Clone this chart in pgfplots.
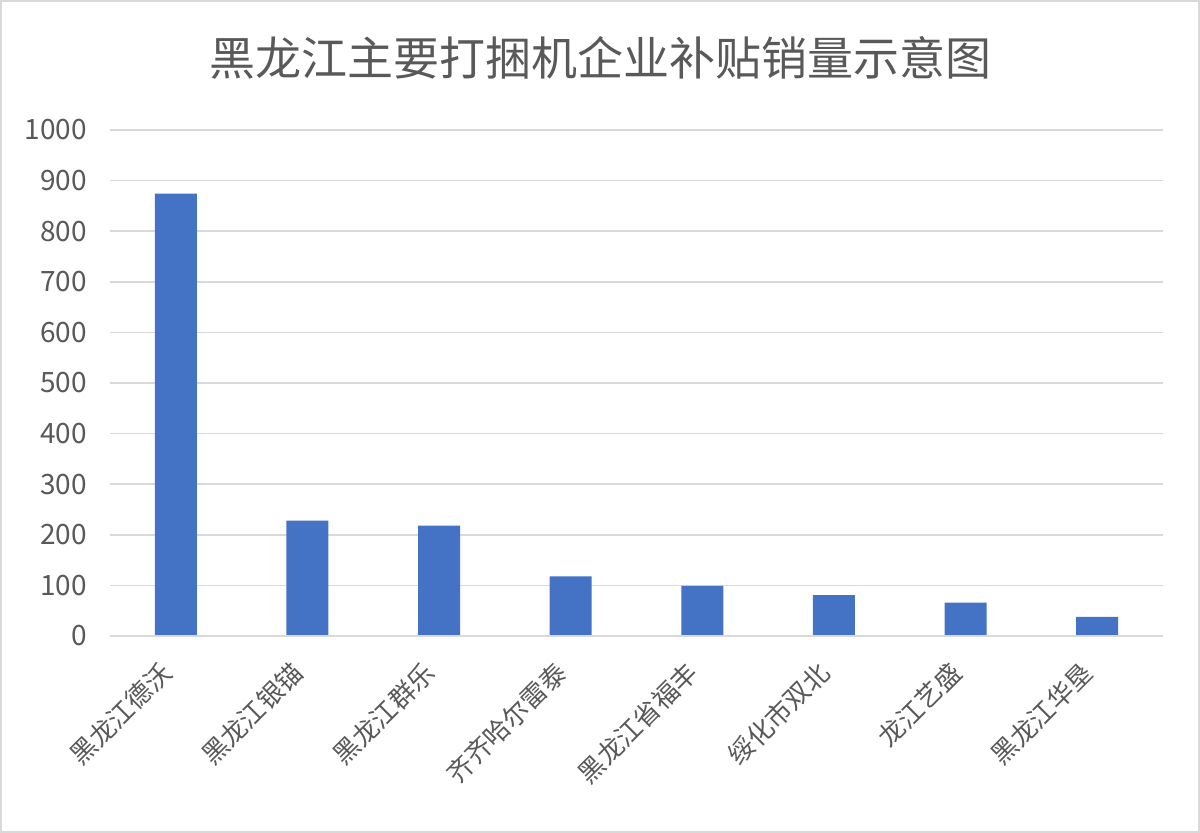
\documentclass[border=0pt]{standalone}
\usepackage{fontspec}
\usepackage{pgfplots}
\pgfplotsset{compat=1.18}
\setmainfont{Noto Sans CJK SC}
\definecolor{barblue}{HTML}{4472C4}
\definecolor{gridgray}{HTML}{D9D9D9}
\definecolor{txtgray}{HTML}{595959}
\begin{document}
\begin{tikzpicture}
\useasboundingbox (-55pt,-98.5pt) rectangle (545pt,318pt);
\fill[white] (-55pt,-98.5pt) rectangle (545pt,318pt);
\draw[gridgray,line width=0.8pt] (-54.6pt,-98.1pt) rectangle (544.6pt,317.6pt);
\begin{axis}[
  at={(0pt,0pt)}, anchor=south west,
  scale only axis,
  width=526.5pt, height=253pt,
  xmin=-0.5, xmax=7.5,
  ymin=0, ymax=1000,
  ytick={0,100,...,1000},
  xtick=data,
  xticklabels={黑龙江德沃,黑龙江银锚,黑龙江群乐,齐齐哈尔雷泰,黑龙江省福丰,绥化市双北,龙江艺盛,黑龙江华垦},
  axis line style={draw=none},
  major tick style={draw=none},
  ymajorgrids,
  grid style={gridgray,line width=0.8pt},
  /pgf/number format/assume math mode=true,
  /pgf/number format/1000 sep={},
  yticklabel style={font=\fontsize{14pt}{16pt}\selectfont, text=txtgray, xshift=-8pt},
  xticklabel style={font=\fontsize{13pt}{15pt}\selectfont, text=txtgray, rotate=45, anchor=east, xshift=-8pt, yshift=-5pt},
  ybar, bar width=21pt,
  clip=false,
]
\addplot[fill=barblue, draw=none] coordinates {(0,874) (1,228) (2,218) (3,118) (4,99) (5,81) (6,66) (7,38)};
\draw[gridgray,line width=0.8pt] (axis cs:-0.5,0) -- (axis cs:7.5,0);
\end{axis}
\node[text=txtgray, font=\fontsize{23pt}{26pt}\selectfont] at (245pt,289pt) {黑龙江主要打捆机企业补贴销量示意图};
\end{tikzpicture}
\end{document}
